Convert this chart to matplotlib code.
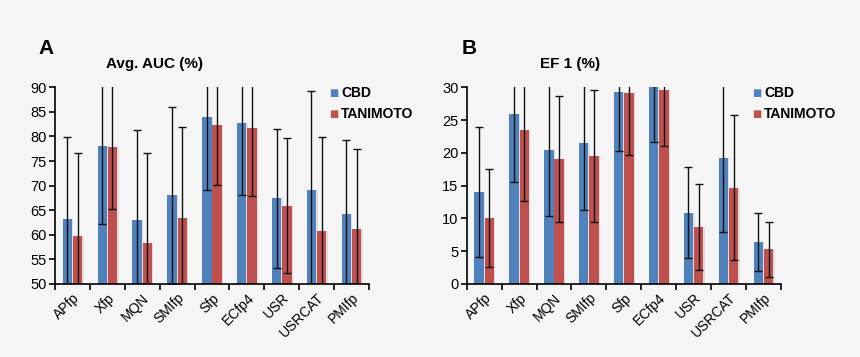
import matplotlib.pyplot as plt
import numpy as np

plt.rcParams['font.family'] = ['Liberation Sans', 'DejaVu Sans']

methods = ['APfp', 'Xfp', 'MQN', 'SMIfp', 'Sfp', 'ECfp4', 'USR', 'USRCAT', 'PMIfp']

# panel A: average AUC (%)
auc_cbd = [63.2, 78.0, 63.0, 68.0, 83.9, 82.7, 67.4, 69.1, 64.3]
auc_cbd_sd = [16.6, 15.9, 18.4, 17.9, 14.8, 14.6, 14.1, 20.1, 15.0]
auc_tan = [59.7, 77.9, 58.4, 63.4, 82.4, 81.7, 65.9, 60.8, 61.2]
auc_tan_sd = [16.9, 12.7, 18.3, 18.5, 12.3, 13.9, 13.7, 19.1, 16.3]

# panel B: EF 1 (%)
ef_cbd = [14.0, 25.9, 20.4, 21.5, 29.3, 30.2, 10.9, 19.2, 6.4]
ef_cbd_sd = [9.9, 10.4, 10.1, 10.2, 9.0, 8.6, 7.0, 11.2, 4.45]
ef_tan = [10.1, 23.5, 19.1, 19.5, 29.1, 29.6, 8.7, 14.7, 5.3]
ef_tan_sd = [7.5, 10.9, 9.6, 10.05, 9.5, 8.5, 6.5, 11.0, 4.2]

blue = '#4f81bd'
red = '#c0504d'
bg = '#f5f5f5'

fig = plt.figure(figsize=(8.6, 3.57), dpi=100, facecolor=bg)
axA = fig.add_axes([0.064, 0.2045, 0.365, 0.551])
axB = fig.add_axes([0.5427, 0.2045, 0.3653, 0.551])


def draw(ax, cbd, cbd_sd, tan, tan_sd, ylim, step):
    x = np.arange(len(methods))
    w = 0.27
    ax.set_facecolor(bg)
    # soft shadow behind the bars
    ax.bar(x - 0.147 + 0.03, cbd, w + 0.02, color='#dedede', zorder=1)
    ax.bar(x + 0.147 + 0.03, tan, w + 0.02, color='#dedede', zorder=1)
    ax.bar(x - 0.147, cbd, w, color=blue, zorder=2)
    ax.bar(x + 0.147, tan, w, color=red, zorder=2)
    ax.errorbar(x - 0.147, cbd, yerr=cbd_sd, fmt='none', ecolor='#111111',
                elinewidth=1, capsize=3, capthick=1, zorder=3)
    ax.errorbar(x + 0.147, tan, yerr=tan_sd, fmt='none', ecolor='#111111',
                elinewidth=1, capsize=3, capthick=1, zorder=3)
    ax.set_xlim(-0.5, len(methods) - 0.5)
    ax.set_ylim(*ylim)
    ax.set_yticks(np.arange(ylim[0], ylim[1] + 0.1, step))
    ax.set_xticks(np.arange(len(methods) + 1) - 0.5)
    ax.set_xticklabels([])
    ax.set_xticks(x, minor=True)
    ax.set_xticklabels(methods, minor=True, rotation=45, ha='right',
                       rotation_mode='anchor', fontsize=10)
    ax.tick_params(axis='x', which='minor', length=0, pad=5)
    ax.tick_params(axis='x', which='major', length=4, width=1.2, direction='out')
    ax.tick_params(axis='y', length=4, width=1.2, labelsize=10.5, pad=2)
    for s in ['top', 'right']:
        ax.spines[s].set_visible(False)
    for s in ['left', 'bottom']:
        ax.spines[s].set_linewidth(1.2)


draw(axA, auc_cbd, auc_cbd_sd, auc_tan, auc_tan_sd, (50, 90), 5)
draw(axB, ef_cbd, ef_cbd_sd, ef_tan, ef_tan_sd, (0, 30), 5)

for ax, letter, title, lx, tx in [(axA, 'A', 'Avg. AUC (%)', 46, 155),
                                  (axB, 'B', 'EF 1 (%)', 469, 570)]:
    fig.text(lx / 860, 1 - 48 / 357, letter, fontsize=15, fontweight='bold',
             ha='center', va='center')
    fig.text(tx / 860, 1 - 64 / 357, title, fontsize=11, fontweight='bold',
             ha='center', va='center')

for mx in [334, 757]:
    for my, lab, col in [(93, 'CBD', blue), (114, 'TANIMOTO', red)]:
        fig.text(mx / 860, 1 - my / 357, '\u25a0', color=col, fontsize=7,
                 ha='center', va='center', family='DejaVu Sans')
        fig.text((mx + 7) / 860, 1 - my / 357, lab, fontsize=10,
                 fontweight='bold', ha='left', va='center')

fig.savefig('out.png', dpi=100, facecolor=bg)
